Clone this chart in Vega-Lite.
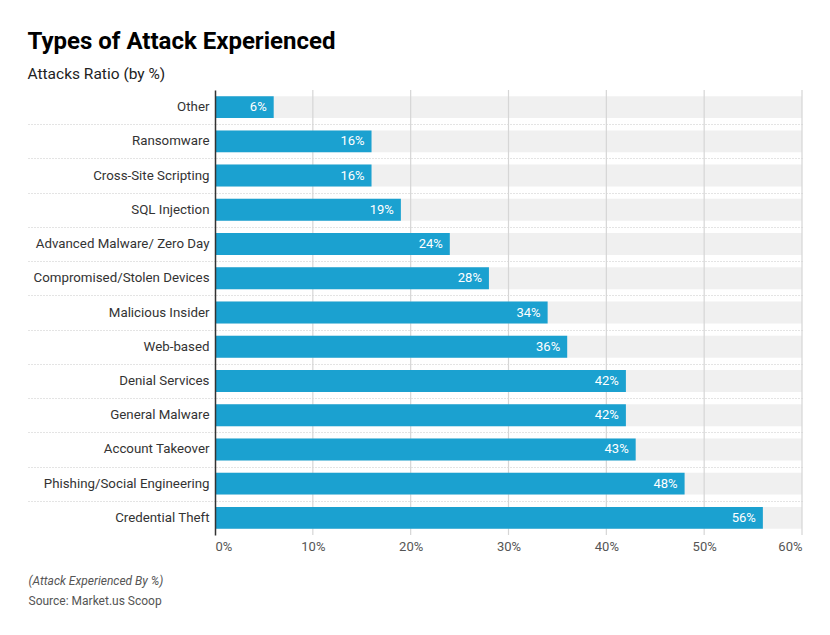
{
  "$schema": "https://vega.github.io/schema/vega-lite/v6.json",
  "width": 587,
  "height": 445,
  "autosize": {"type": "none"},
  "padding": {"left": 215, "top": 90, "right": 28, "bottom": 100},
  "background": "white",
  "config": {"view": {"stroke": null}, "font": "Roboto"},
  "title": {
    "text": "Types of Attack Experienced",
    "subtitle": "Attacks Ratio (by %)",
    "anchor": "start",
    "frame": "bounds",
    "font": "Roboto",
    "fontSize": 24,
    "fontWeight": "bold",
    "color": "#000000",
    "subtitleFont": "Roboto",
    "subtitleFontSize": 15.5,
    "subtitleColor": "#222222",
    "subtitlePadding": 13,
    "offset": 7
  },
  "data": {
    "values": [
      {"type": "Other", "value": 0.06},
      {"type": "Ransomware", "value": 0.16},
      {"type": "Cross-Site Scripting", "value": 0.16},
      {"type": "SQL Injection", "value": 0.19},
      {"type": "Advanced Malware/ Zero Day", "value": 0.24},
      {"type": "Compromised/Stolen Devices", "value": 0.28},
      {"type": "Malicious Insider", "value": 0.34},
      {"type": "Web-based", "value": 0.36},
      {"type": "Denial Services", "value": 0.42},
      {"type": "General Malware", "value": 0.42},
      {"type": "Account Takeover", "value": 0.43},
      {"type": "Phishing/Social Engineering", "value": 0.48},
      {"type": "Credential Theft", "value": 0.56}
    ]
  },
  "resolve": {"axis": {"x": "independent", "y": "independent"}},
  "layer": [
    {
      "mark": {"type": "bar", "color": "#f0f0f0"},
      "encoding": {
        "y": {
          "field": "type", "type": "nominal", "sort": null,
          "scale": {"paddingInner": 0.36, "paddingOuter": 0.18},
          "axis": {
            "orient": "left",
            "title": null, "ticks": false, "grid": false,
            "domain": true, "domainColor": "#333333", "domainWidth": 1.5,
            "labelFont": "Roboto", "labelFontSize": 13.3, "labelColor": "#333333",
            "labelPadding": 6, "zindex": 2
          }
        },
        "x": {
          "datum": 0.6, "type": "quantitative",
          "scale": {"domain": [0, 0.6], "nice": false},
          "axis": {
            "orient": "bottom",
            "format": ".0%", "values": [0, 0.1, 0.2, 0.3, 0.4, 0.5, 0.6],
            "ticks": false, "domain": false, "grid": false,
            "labelFont": "Roboto", "labelFontSize": 13, "labelColor": "#555555",
            "labelPadding": 5,
            "title": "(Attack Experienced By %)",
            "titleFont": "Roboto", "titleFontSize": 12, "titleFontStyle": "italic",
            "titleFontWeight": "normal", "titleColor": "#555555",
            "titleAnchor": "start", "titleAlign": "left", "titleBaseline": "alphabetic",
            "titleX": -187, "titleY": 49
          }
        },
        "x2": {"datum": 0}
      }
    },
    {
      "data": {"values": [{"v": 0.1}, {"v": 0.2}, {"v": 0.3}, {"v": 0.4}, {"v": 0.5}, {"v": 0.6}]},
      "mark": {"type": "rule", "color": "#d6d6d6", "strokeWidth": 1.2},
      "encoding": {
        "x": {
          "field": "v", "type": "quantitative",
          "axis": {
            "orient": "bottom",
            "labels": false, "ticks": false, "domain": false, "grid": false,
            "title": "Source: Market.us Scoop",
            "titleFont": "Roboto", "titleFontSize": 12, "titleFontWeight": "normal",
            "titleColor": "#555555",
            "titleAnchor": "start", "titleAlign": "left", "titleBaseline": "alphabetic",
            "titleX": -187, "titleY": 69
          }
        }
      }
    },
    {
      "mark": {"type": "bar", "color": "#1ba1d0"},
      "encoding": {
        "y": {
          "field": "type", "type": "nominal", "sort": null,
          "axis": {
            "orient": "right",
            "title": null, "labels": false, "domain": false, "grid": false,
            "ticks": true, "tickSize": -587, "tickColor": "#c8c8c8", "tickDash": [1, 2], "tickWidth": 1,
            "tickOffset": 17.125,
            "values": ["Other", "Ransomware", "Cross-Site Scripting", "SQL Injection", "Advanced Malware/ Zero Day", "Compromised/Stolen Devices", "Malicious Insider", "Web-based", "Denial Services", "General Malware", "Account Takeover", "Phishing/Social Engineering"],
            "zindex": 0
          }
        },
        "x": {"field": "value", "type": "quantitative", "axis": null}
      }
    },
    {
      "mark": {"type": "text", "align": "right", "baseline": "middle", "dx": -7, "color": "white", "font": "Roboto", "fontSize": 13},
      "encoding": {
        "y": {
          "field": "type", "type": "nominal", "sort": null,
          "axis": {
            "orient": "left",
            "title": null, "labels": false, "domain": false, "grid": false,
            "ticks": true, "tickSize": 187, "tickColor": "#c8c8c8", "tickDash": [1, 2], "tickWidth": 1,
            "tickOffset": 17.125,
            "values": ["Other", "Ransomware", "Cross-Site Scripting", "SQL Injection", "Advanced Malware/ Zero Day", "Compromised/Stolen Devices", "Malicious Insider", "Web-based", "Denial Services", "General Malware", "Account Takeover", "Phishing/Social Engineering"],
            "zindex": 0
          }
        },
        "x": {"field": "value", "type": "quantitative", "axis": null},
        "text": {"field": "value", "type": "quantitative", "format": ".0%"}
      }
    }
  ]
}
